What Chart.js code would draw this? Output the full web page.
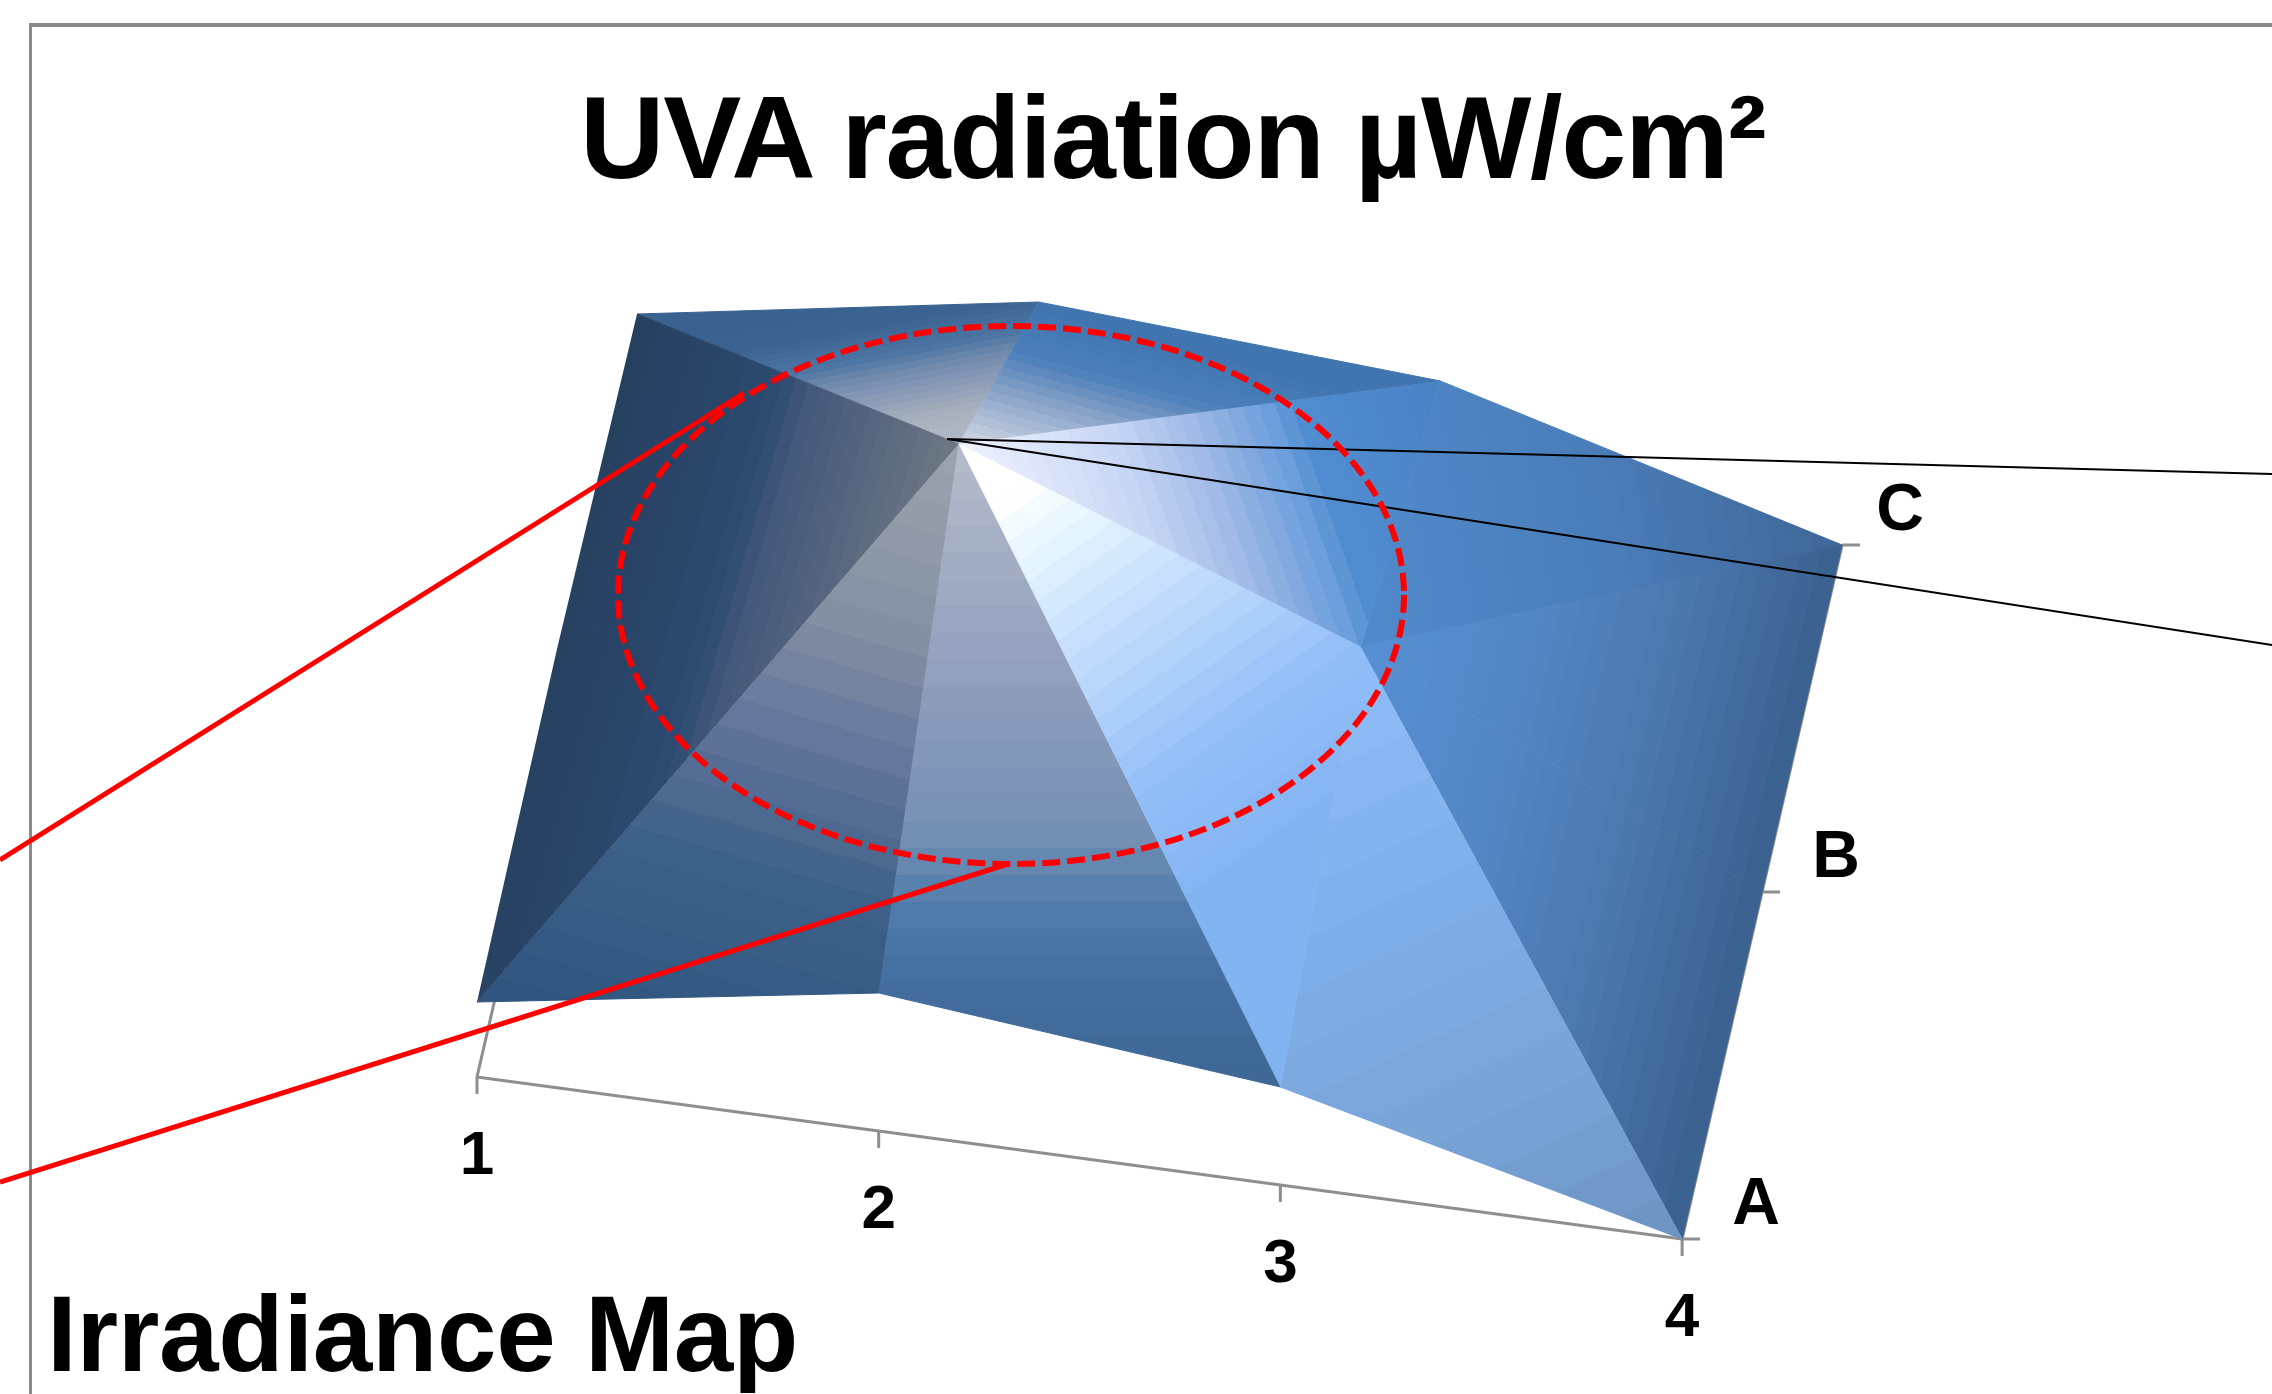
<!DOCTYPE html>
<html lang="en">
<head>
    <meta charset="UTF-8">
    <title>UVA radiation</title>
    <script src="https://cdn.jsdelivr.net/npm/chart.js"></script>
    <style>
        html, body { margin: 0; background: #fff; overflow: hidden; }
        body { width: 2272px; height: 1394px; position: relative; font-family: "Liberation Sans", Arial, sans-serif; }
        .frame { position: absolute; left: 29px; top: 23px; right: 0; bottom: 0; border-left: 3px solid #8a8a8a; border-top: 4px solid #8a8a8a; }
        canvas { position: absolute; left: 0; top: 0; filter: blur(0.7px); }
        .title { position: absolute; left: 580px; top: 79px; margin: 0; font-size: 117px; line-height: 1; font-weight: bold; letter-spacing: -1.3px; white-space: nowrap; color: #000; }
        .caption { position: absolute; left: 47px; top: 1281px; font-size: 107px; line-height: 1; font-weight: bold; letter-spacing: -0.3px; white-space: nowrap; color: #000; }
    </style>
</head>
<body>
    <div class="frame"></div>
    <h1 class="title">UVA radiation µW/cm²</h1>
    <canvas id="surface" width="2272" height="1394"></canvas>
    <div class="caption">Irradiance Map</div>

    <script>
        // categories of the two floor axes
        const columns = ['1', '2', '3', '4'];
        const rows = ['A', 'B', 'C'];

        // surface height per column (no value axis in the original)
        const rowA = [75, 138, 98, 0];
        const rowB = [81, 340, 191, 0];
        const rowC = [69, 135, 110, 0];
        const heights = [rowA, rowB, rowC];

        // leader lines on top of the chart
        const redLeaderX = [[0, 744], [0, 1008]];
        const redLeaderY = [[860, 393], [1182, 864]];
        const blackLeaderX = [[947, 2272], [947, 2272]];
        const blackLeaderY = [[439, 474], [439, 645]];

        // oblique projection of the floor grid
        const origin = { x: 477, y: 1077 };
        const colStep = { x: 401.7, y: 54 };
        const rowStep = { x: 80, y: -347 };

        function project(col, row, z) {
            return {
                x: origin.x + col * colStep.x + row * rowStep.x,
                y: origin.y + col * colStep.y + row * rowStep.y - z
            };
        }
        const vertex = (col, row) => project(col, row, heights[row][col]);

        const canvas = document.getElementById('surface');
        const ctx = canvas.getContext('2d');

        function hexRgb(h) {
            return [1, 3, 5].map(i => parseInt(h.substr(i, 2), 16));
        }
        // linear gradient with hard stops, so the colour bands of the surface show
        function banded(x0, y0, x1, y1, stops, n) {
            const g = ctx.createLinearGradient(x0, y0, x1, y1);
            const colourAt = t => {
                let i = 0;
                while (i < stops.length - 2 && t > stops[i + 1][0]) i++;
                const [t0, c0] = stops[i], [t1, c1] = stops[i + 1];
                const k = Math.min(Math.max((t - t0) / (t1 - t0), 0), 1);
                const a = hexRgb(c0), b = hexRgb(c1);
                return `rgb(${a.map((v, j) => Math.round(v + (b[j] - v) * k)).join(',')})`;
            };
            for (let i = 0; i < n; i++) {
                const c = colourAt((i + 0.5) / n);
                g.addColorStop(i / n, c);
                g.addColorStop((i + 1) / n, c);
            }
            return g;
        }

        const darkLeft = banded(635, 314, 967, 410, [[0, '#26405f'], [0.3, '#2a4669'], [0.45, '#2c4a72'], [0.55, '#44587a'], [1, '#6e7884']], 26);
        const upperRight = banded(1360, 560, 1844, 480, [[0, '#5289cb'], [0.5, '#4a7db9'], [1, '#3e6595']], 24);
        const rightSide = banded(1361, 650, 1792, 752, [[0, '#5690d4'], [0.4, '#5385c2'], [0.7, '#4a76ab'], [1, '#3a618f']], 24);

        // [col,row] corners of each facet, back to front, with its fill
        const facets = [
            { corners: [[0, 2], [1, 2], [1, 1]], fill: banded(887, 300, 913, 440, [[0, '#3a6290'], [0.16, '#3c6492'], [0.39, '#4d76a4'], [0.5, '#6e88ab'], [0.62, '#8496b4'], [0.85, '#a6afbc'], [1, '#b0b7c2']], 22) },
            { corners: [[1, 2], [2, 2], [1, 1]], fill: banded(1038, 303, 997, 457, [[0, '#4074ae'], [0.35, '#4d80bb'], [0.6, '#8aa3c8'], [1, '#d5dae4']], 18) },
            { corners: [[2, 2], [3, 2], [2, 1]], fill: upperRight },
            { corners: [[2, 2], [2, 1], [1, 1]], fill: banded(958, 445, 1400, 290, [[0, '#eef3ff'], [0.32, '#c7d6f4'], [0.49, '#9fb9e6'], [0.64, '#6fa0dc'], [0.72, '#4f8ccf'], [1, '#4b84c5']], 30) },
            { corners: [[0, 2], [1, 1], [0, 1]], fill: darkLeft },
            { corners: [[0, 1], [1, 1], [0, 0]], fill: darkLeft },
            { corners: [[1, 1], [1, 0], [0, 0]], fill: banded(958, 445, 770, 1088, [[0, '#9ca5ae'], [0.3, '#838fa3'], [0.5, '#62749a'], [0.7, '#3d6088'], [1, '#2f557f']], 22) },
            { corners: [[1, 1], [2, 0], [1, 0]], fill: banded(958, 445, 958, 1090, [[0, '#b5bccb'], [0.4, '#8d9bbb'], [0.6, '#7490b4'], [0.72, '#4e7bab'], [0.85, '#426d9e'], [1, '#3d6793']], 24) },
            { corners: [[2, 1], [3, 2], [3, 1]], fill: rightSide },
            { corners: [[2, 1], [3, 1], [3, 0]], fill: rightSide },
            { corners: [[2, 1], [3, 0], [2, 0]], fill: banded(1361, 650, 1642, 1259, [[0, '#8fbdf8'], [0.35, '#7fb0ea'], [0.7, '#78a3d7'], [1, '#6c94c2']], 14) },
            { corners: [[1, 1], [2, 1], [2, 0]], fill: banded(958, 445, 1260, 870, [[0, '#ffffff'], [0.14, '#ffffff'], [0.25, '#e6f5ff'], [0.5, '#bcd8fb'], [0.75, '#92bff8'], [1, '#80b2f0']], 24) }
        ];

        const greyLine = pts => ({ data: pts, showLine: true, borderColor: '#8e8e8e', borderWidth: 3, pointRadius: 0 });
        const floorOf = (c, r) => project(c, r, 0);

        const axisDatasets = [
            greyLine([floorOf(0, 0), floorOf(3, 0)]),
            greyLine([floorOf(0, 0), floorOf(0, 0.22)]),
            greyLine([floorOf(3, 0), floorOf(3, 2)]),
            ...columns.map((_, c) => {
                const p = floorOf(c, 0);
                return greyLine([p, { x: p.x, y: p.y + 17 }]);
            }),
            ...rows.map((_, r) => {
                const p = floorOf(3, r);
                return greyLine([p, { x: p.x + 18, y: p.y }]);
            })
        ];

        const facetDatasets = facets.map(f => {
            const pts = f.corners.map(([c, r]) => vertex(c, r));
            return {
                data: pts,
                showLine: true,
                fill: 'shape',
                backgroundColor: f.fill,
                borderColor: f.fill,
                borderWidth: 1,
                pointRadius: 0
            };
        });

        const leader = (xs, ys, colour, width) => ({
            data: xs.map((x, i) => ({ x: x, y: ys[i] })),
            showLine: true,
            borderColor: colour,
            borderWidth: width,
            pointRadius: 0
        });
        const leaderDatasets = [
            leader(redLeaderX[0], redLeaderY[0], '#ff0000', 5),
            leader(redLeaderX[1], redLeaderY[1], '#ff0000', 5),
            leader(blackLeaderX[0], blackLeaderY[0], '#000', 2),
            leader(blackLeaderX[1], blackLeaderY[1], '#000', 2)
        ];

        // dashed ring and the axis labels, placed through the chart's scales
        const overlay = {
            id: 'overlay',
            afterDatasetsDraw(chart) {
                const { x, y } = chart.scales;
                const c = chart.ctx;
                c.save();
                c.beginPath();
                c.ellipse(x.getPixelForValue(1011), y.getPixelForValue(595), 393, 269, 0, 0, Math.PI * 2);
                c.strokeStyle = '#ff0000';
                c.lineWidth = 6;
                c.setLineDash([18, 7]);
                c.stroke();
                c.setLineDash([]);

                c.fillStyle = '#000';
                c.textAlign = 'center';
                c.textBaseline = 'middle';
                c.font = 'bold 62px "Liberation Sans"';
                columns.forEach((label, i) => {
                    const p = floorOf(i, 0);
                    c.fillText(label, x.getPixelForValue(p.x), y.getPixelForValue(p.y + 80));
                });
                c.font = 'bold 66px "Liberation Sans"';
                const rowDx = [74, 74, 58];
                rows.forEach((label, i) => {
                    const p = floorOf(3, i);
                    c.fillText(label, x.getPixelForValue(p.x + rowDx[i]), y.getPixelForValue(p.y - 33));
                });
                c.restore();
            }
        };

        new Chart(ctx, {
            type: 'scatter',
            // Chart.js paints the first dataset last, so the list runs top layer first
            data: { datasets: [...leaderDatasets, ...facetDatasets.reverse(), ...axisDatasets] },
            options: {
                responsive: false,
                animation: false,
                clip: false,
                layout: { padding: 0 },
                scales: {
                    x: { type: 'linear', display: false, min: 0, max: 2272 },
                    y: { type: 'linear', display: false, min: 0, max: 1394, reverse: true }
                },
                plugins: { legend: { display: false }, tooltip: { enabled: false } }
            },
            plugins: [overlay]
        });
    </script>
</body>
</html>
